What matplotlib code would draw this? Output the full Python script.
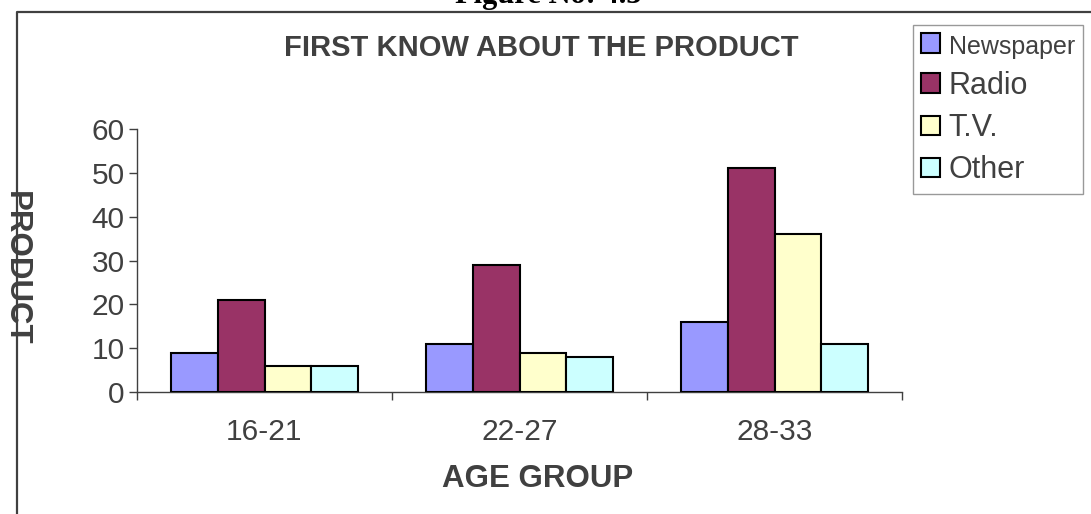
import numpy as np
import matplotlib.pyplot as plt
from matplotlib.lines import Line2D

plt.rcParams['font.family'] = ['Liberation Sans', 'DejaVu Sans']

age_groups = ['16-21', '22-27', '28-33']
sources = ['Newspaper', 'Radio', 'T.V.', 'Other']
newspaper = [9, 11, 16]
radio = [21, 29, 51]
tv = [6, 9, 36]
other = [6, 8, 11]
bar_colors = ['#9999FF', '#993366', '#FFFFCC', '#CCFFFF']
yticks = [0, 10, 20, 30, 40, 50, 60]

grey = '#404040'

fig = plt.figure(figsize=(10.91, 5.14), dpi=100)
ax = fig.add_axes([137 / 1091, 122 / 514, 765 / 1091, 263 / 514])

x = np.arange(len(age_groups))
width = 0.183
series = [newspaper, radio, tv, other]
for i, (name, vals) in enumerate(zip(sources, series)):
    ax.bar(x + (i - 1.5) * width, vals, width, color=bar_colors[i],
           edgecolor='black', linewidth=1.5, label=name, zorder=3)

ax.set_xlim(-0.5, len(age_groups) - 0.5)
ax.set_ylim(0, 60)
ax.set_yticks(yticks)
ax.set_yticklabels([str(v) for v in yticks])

# category ticks sit on the group boundaries, labels centred between them
ax.set_xticks(np.arange(len(age_groups) + 1) - 0.5)
ax.set_xticklabels([])
ax.set_xticks(x, minor=True)
ax.set_xticklabels(age_groups, minor=True)
ax.tick_params(axis='x', which='major', direction='out', length=6, width=1, color=grey)
ax.tick_params(axis='x', which='minor', length=0, pad=19, labelsize=21.5, labelcolor=grey)
ax.tick_params(axis='y', direction='out', length=6, width=1, color=grey,
               pad=3, labelsize=21.5, labelcolor=grey)

for side in ['top', 'right']:
    ax.spines[side].set_visible(False)
for side in ['left', 'bottom']:
    ax.spines[side].set_color(grey)
    ax.spines[side].set_linewidth(1)

fig.text(541 / 1091, 1 - 48 / 514, 'FIRST KNOW ABOUT THE PRODUCT', ha='center', va='center',
         fontsize=21, fontweight='bold', color=grey)
fig.text(538 / 1091, 1 - 479 / 514, 'AGE GROUP', ha='center', va='center',
         fontsize=22.5, fontweight='bold', color=grey)
fig.text(16 / 1091, 1 - 268 / 514, 'PRODUCT', ha='center', va='center', rotation=-90,
         fontsize=22.5, fontweight='bold', color=grey, zorder=5)
fig.text(548 / 1091, 1 - 3 / 514, 'Figure No: 4.3', ha='center', va='baseline',
         fontsize=22, fontweight='bold', family='Liberation Serif', color='black')

# outer frame around the chart area
fig.add_artist(Line2D([17 / 1091, 17 / 1091, 1.0], [0.0, 1 - 12 / 514, 1 - 12 / 514],
                      transform=fig.transFigure, color=grey, linewidth=1.6))

leg = fig.legend(loc='upper left', bbox_to_anchor=(913 / 1091, 1 - 25 / 514),
                 frameon=True, fancybox=False, edgecolor='#808080', fontsize=22,
                 handlelength=0.6, handleheight=0.6, handletextpad=0.3,
                 borderpad=0.27, labelspacing=0.4, borderaxespad=0)
leg.get_frame().set_linewidth(1)
for t in leg.get_texts():
    t.set_color(grey)
leg.get_texts()[0].set_fontsize(18)

fig.savefig('out.png', dpi=100)
